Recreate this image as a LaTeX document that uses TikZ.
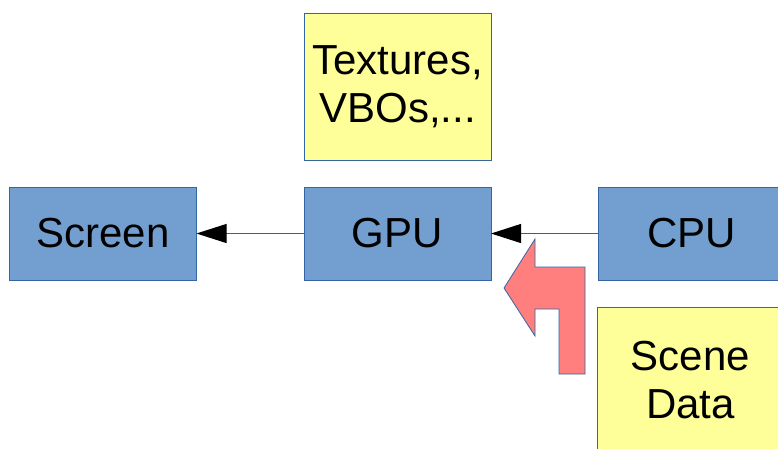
\documentclass[tikz,border=0pt]{standalone}
\usepackage{fontspec}
\setmainfont{Liberation Sans}
\usetikzlibrary{arrows.meta}
\definecolor{boxblue}{HTML}{729FCF}
\definecolor{edgeblue}{HTML}{3465A4}
\definecolor{boxyellow}{HTML}{FFFF99}
\definecolor{arrowred}{HTML}{FF7F7F}
\definecolor{linegray}{HTML}{5A5A5A}
\begin{document}
\begin{tikzpicture}[x=1pt,y=-1pt,
  box/.style={draw=edgeblue, line width=0.8pt, minimum width=187pt, align=center,
    font=\fontsize{42pt}{48pt}\selectfont, inner sep=0pt, outer sep=0pt},
  bluebox/.style={box, fill=boxblue, minimum height=93pt},
  yellowbox/.style={box, fill=boxyellow, minimum height=147pt},
  conn/.style={draw=linegray, line width=1pt, -{Triangle[length=30pt,width=19pt,fill=black,color=black]}}
]
\useasboundingbox (0,0) rectangle (778,448);
\clip (0,0) rectangle (778,448);
\node[bluebox] (screen) at (103,233.5) {Screen};
\node[bluebox] (gpu) at (397.5,233.5) {GPU};
\node[bluebox] (cpu) at (691.5,233.5) {CPU};
\node[yellowbox] (tex) at (397.5,86.5) {Textures,\\VBOs,...};
\node[yellowbox] (scene) at (690.5,380.5) {Scene\\Data};
\draw[conn] (gpu.west) -- (screen.east);
\draw[conn] (cpu.west) -- (gpu.east);
\draw[fill=arrowred, draw=edgeblue, line width=0.8pt, line join=miter]
  (504,288) -- (535,239) -- (535,267) -- (585,267) -- (585,374) -- (559,374)
  -- (559,309) -- (535,309) -- (535,336) -- cycle;
\end{tikzpicture}
\end{document}
